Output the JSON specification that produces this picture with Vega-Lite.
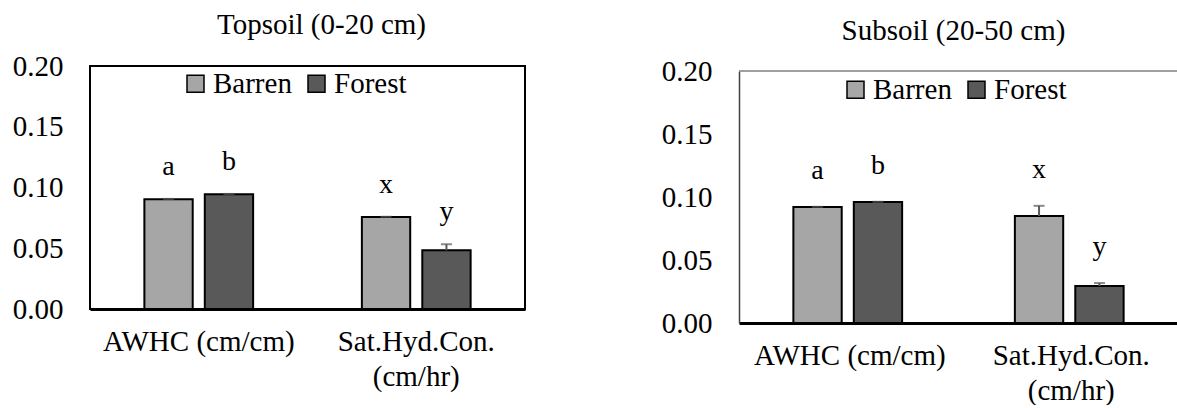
{
  "$schema": "https://vega.github.io/schema/vega-lite/v6.json",
  "background": "white",
  "padding": {"left": 11, "top": 10, "right": 0, "bottom": 0},
  "bounds": "flush",
  "spacing": 214,
  "resolve": {"legend": {"color": "independent"}},
  "config": {
    "font": "Liberation Serif",
    "view": {"stroke": "black", "strokeWidth": 2},
    "text": {"font": "Liberation Serif"},
    "axis": {"labelFont": "Liberation Serif", "labelColor": "black", "labelFontSize": 29, "ticks": false, "grid": false, "title": null, "labelFlush": false, "labelOverlap": false},
    "title": {"font": "Liberation Serif", "fontSize": 29, "fontWeight": "normal", "color": "black", "anchor": "middle", "baseline": "bottom"},
    "legend": {"orient": "none", "direction": "horizontal", "title": null, "symbolType": "square", "symbolSize": 289, "symbolStrokeColor": "black", "symbolStrokeWidth": 1.5, "symbolOpacity": 1, "labelFont": "Liberation Serif", "labelFontSize": 29, "labelColor": "black", "labelOffset": 3, "columnPadding": 10, "padding": 0}
  },
  "datasets": {
    "topsoil": [
      {"param": "AWHC (cm/cm)", "group": "Barren", "value": 0.0903, "upper": 0.0906, "letter": "a"},
      {"param": "AWHC (cm/cm)", "group": "Forest", "value": 0.0944, "upper": 0.0947, "letter": "b"},
      {"param": "Sat.Hyd.Con. (cm/hr)", "group": "Barren", "value": 0.0757, "upper": 0.0759, "letter": "x"},
      {"param": "Sat.Hyd.Con. (cm/hr)", "group": "Forest", "value": 0.0483, "upper": 0.0533, "letter": "y"}
    ],
    "subsoil": [
      {"param": "AWHC (cm/cm)", "group": "Barren", "value": 0.092, "upper": 0.0922, "letter": "a"},
      {"param": "AWHC (cm/cm)", "group": "Forest", "value": 0.096, "upper": 0.0962, "letter": "b"},
      {"param": "Sat.Hyd.Con. (cm/hr)", "group": "Barren", "value": 0.0849, "upper": 0.093, "letter": "x"},
      {"param": "Sat.Hyd.Con. (cm/hr)", "group": "Forest", "value": 0.0294, "upper": 0.0317, "letter": "y"}
    ]
  },
  "hconcat": [
    {
      "width": 435,
      "height": 243,
      "data": {"name": "topsoil"},
      "title": {"text": "Topsoil (0-20 cm)", "offset": 12, "dx": 14, "font": "Liberation Serif"},
      "encoding": {
        "x": {"field": "param", "type": "nominal", "sort": null,
          "scale": {"paddingInner": 0, "paddingOuter": 0},
          "axis": {"labelAngle": 0, "labelPadding": 18, "labelLineHeight": 35, "labelLimit": 400, "domain": true, "domainColor": "black", "domainWidth": 3, "labelFont": "Liberation Serif",
            "labelExpr": "indexof(datum.value, 'Sat') === 0 ? split(datum.value, ' ') : datum.value"}},
        "xOffset": {"field": "group", "type": "nominal", "sort": ["Barren", "Forest"], "scale": {"paddingInner": 0.2, "paddingOuter": 0.9}}
      },
      "layer": [
        {
          "mark": {"type": "bar", "stroke": "black", "strokeWidth": 2},
          "encoding": {
            "y": {"field": "value", "type": "quantitative", "scale": {"domain": [0, 0.2], "nice": false},
              "axis": {"values": [0, 0.05, 0.1, 0.15, 0.2], "format": ".2f", "labelPadding": 27, "domain": false, "labelFont": "Liberation Serif"}},
            "color": {"field": "group", "type": "nominal", "scale": {"domain": ["Barren", "Forest"], "range": ["#A6A6A6", "#595959"]},
              "legend": {"legendX": 91, "legendY": 3, "labelFont": "Liberation Serif"}}
          }
        },
        {
          "mark": {"type": "rule", "color": "#595959", "strokeWidth": 2},
          "encoding": {"y": {"field": "value", "type": "quantitative"}, "y2": {"field": "upper"}}
        },
        {
          "mark": {"type": "tick", "color": "#595959", "thickness": 2, "size": 11},
          "encoding": {"y": {"field": "upper", "type": "quantitative"}}
        },
        {
          "mark": {"type": "text", "fontSize": 28, "dy": -24, "baseline": "alphabetic", "color": "black", "font": "Liberation Serif"},
          "encoding": {"y": {"field": "upper", "type": "quantitative"}, "text": {"field": "letter"}}
        }
      ]
    },
    {
      "width": 443,
      "height": 257,
      "view": {"stroke": null},
      "title": {"text": "Subsoil (20-50  cm)", "offset": 11, "dx": -7, "font": "Liberation Serif"},
      "layer": [
        {
          "data": {"values": [{}]},
          "mark": {"type": "rule", "color": "#808080", "strokeWidth": 1.5},
          "encoding": {"y": {"datum": 0.2, "type": "quantitative"}}
        },
        {
          "data": {"name": "subsoil"},
          "encoding": {
            "x": {"field": "param", "type": "nominal", "sort": null,
              "scale": {"paddingInner": 0, "paddingOuter": 0},
              "axis": {"labelAngle": 0, "labelPadding": 18, "labelLineHeight": 35, "labelLimit": 400, "domain": true, "domainColor": "black", "domainWidth": 3, "labelFont": "Liberation Serif",
                "labelExpr": "indexof(datum.value, 'Sat') === 0 ? split(datum.value, ' ') : datum.value"}},
            "xOffset": {"field": "group", "type": "nominal", "sort": ["Barren", "Forest"], "scale": {"paddingInner": 0.2, "paddingOuter": 0.9}}
          },
          "layer": [
            {
              "mark": {"type": "bar", "stroke": "black", "strokeWidth": 2},
              "encoding": {
                "y": {"field": "value", "type": "quantitative", "scale": {"domain": [0, 0.2], "nice": false, "range": [257, 5]},
                  "axis": {"values": [0, 0.05, 0.1, 0.15, 0.2], "format": ".2f", "labelPadding": 27, "domain": true, "domainColor": "#404040", "domainWidth": 1.5, "labelFont": "Liberation Serif"}},
                "color": {"field": "group", "type": "nominal", "scale": {"domain": ["Barren", "Forest"], "range": ["#A6A6A6", "#595959"]},
                  "legend": {"legendX": 102, "legendY": 9, "labelFont": "Liberation Serif"}}
              }
            },
            {
              "mark": {"type": "rule", "color": "#595959", "strokeWidth": 2},
              "encoding": {"y": {"field": "value", "type": "quantitative"}, "y2": {"field": "upper"}}
            },
            {
              "mark": {"type": "tick", "color": "#595959", "thickness": 2, "size": 11},
              "encoding": {"y": {"field": "upper", "type": "quantitative"}}
            },
            {
              "mark": {"type": "text", "fontSize": 28, "dy": -28, "baseline": "alphabetic", "color": "black", "font": "Liberation Serif"},
              "encoding": {"y": {"field": "upper", "type": "quantitative"}, "text": {"field": "letter"}}
            }
          ]
        }
      ]
    }
  ]
}
